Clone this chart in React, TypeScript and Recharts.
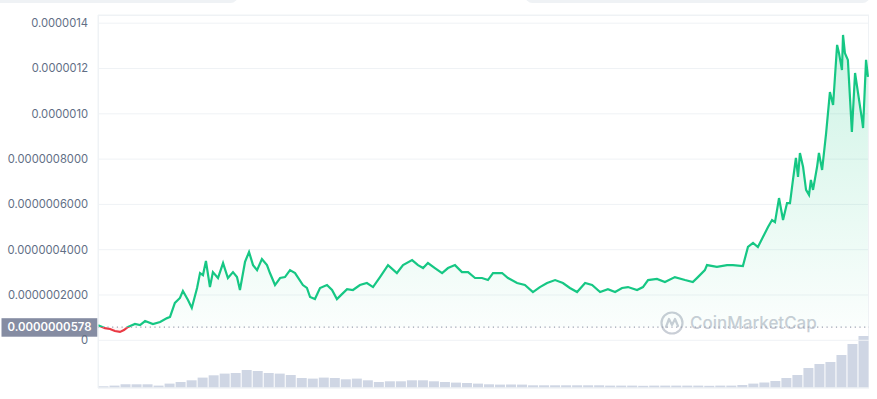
import React from 'react';
import {
  AreaChart,
  Area,
  BarChart,
  Bar,
  XAxis,
  YAxis,
  CartesianGrid,
  ReferenceLine,
} from 'recharts';

// price samples, day offset within the 1Y window
const priceDays = [
  0, 3.3, 5.7, 8.0, 10.4, 12.3, 14.2, 17.5, 19.9, 22.3,
  26.0, 29.4, 32.7, 34.1, 36.4, 38.8, 40.2, 42.6, 44.4, 46.9,
  48.3, 49.7, 51.1, 53.0, 54.4, 56.8, 59.2, 61.5, 63.9, 65.8,
  67.2, 69.6, 71.5, 73.4, 75.3, 77.6, 80.0, 81.4, 83.8, 86.2,
  88.5, 90.9, 93.3, 97.0, 98.9, 100.4, 102.7, 105.1, 108.4, 110.8,
  113.1, 115.5, 117.9, 120.7, 124.0, 127.3, 130.2, 133.5, 137.3, 141.5,
  144.4, 148.7, 151.5, 153.9, 156.2, 159.5, 162.9, 165.7, 169.0, 172.3,
  175.2, 178.5, 181.8, 184.6, 187.0, 191.3, 194.1, 198.4, 202.1, 205.9,
  209.2, 212.6, 216.4, 220.1, 223.4, 226.8, 230.6, 233.9, 237.7, 241.4,
  244.8, 248.1, 250.9, 255.2, 258.0, 260.4, 264.6, 268.4, 273.1, 277.9,
  281.6, 284.0, 287.3, 288.3, 293.0, 297.8, 300.6, 305.3, 307.7, 310.1,
  312.4, 314.8, 317.2, 319.1, 320.5, 322.4, 324.3, 326.2, 327.6, 329.0,
  330.4, 331.4, 332.3, 333.8, 335.2, 336.6, 337.5, 338.5, 340.4, 341.3,
  342.8, 344.7, 346.5, 348.0, 349.9, 350.8, 352.2, 352.7, 353.6, 355.0,
  356.9, 358.4, 359.8, 361.7, 362.2, 363.6, 364.5,
];

// price in units of 1e-9 USD
const priceNano = [
  66, 54, 50, 41, 37, 45, 59, 72, 67, 85,
  72, 81, 98, 103, 165, 187, 218, 178, 143, 231,
  297, 288, 350, 235, 301, 275, 341, 275, 301, 279,
  222, 346, 390, 332, 310, 359, 332, 297, 244, 275,
  279, 310, 297, 244, 231, 191, 182, 231, 244, 222,
  182, 204, 226, 222, 244, 253, 235, 279, 332, 297,
  332, 354, 332, 319, 341, 319, 297, 319, 332, 301,
  301, 275, 275, 266, 297, 297, 275, 253, 244, 213,
  235, 253, 266, 253, 231, 213, 253, 244, 213, 226,
  213, 231, 235, 222, 235, 266, 271, 257, 279, 266,
  257, 279, 310, 332, 324, 332, 332, 328, 412, 430,
  412, 456, 500, 531, 522, 628, 531, 606, 606, 708,
  805, 721, 827, 765, 664, 642, 708, 664, 765, 827,
  752, 915, 1096, 1039, 1304, 1268, 1193, 1348, 1268, 1238,
  920, 1180, 1092, 973, 937, 1238, 1163,
];

// volume per bar, billions USD
const volumeBillions = [
  0.17, 0.24, 0.37, 0.37, 0.37, 0.24, 0.44, 0.6, 0.77, 1.04,
  1.27, 1.44, 1.5, 1.8, 1.7, 1.5, 1.44, 1.3, 1.0, 0.94,
  1.04, 1.0, 0.87, 0.94, 0.77, 0.6, 0.67, 0.67, 0.77, 0.77,
  0.67, 0.6, 0.54, 0.5, 0.44, 0.37, 0.34, 0.34, 0.34, 0.27,
  0.27, 0.27, 0.27, 0.27, 0.27, 0.27, 0.24, 0.24, 0.24, 0.22,
  0.24, 0.24, 0.24, 0.24, 0.24, 0.22, 0.24, 0.24, 0.3, 0.44,
  0.55, 0.7, 1.0, 1.3, 2.0, 2.4, 2.6, 3.3, 4.4, 5.2,
];

const yTicks = [0, 2e-7, 4e-7, 6e-7, 8e-7, 1e-6, 1.2e-6, 1.4e-6];
const yTickLabels = [
  '0',
  '0.0000002000',
  '0.0000004000',
  '0.0000006000',
  '0.0000008000',
  '0.0000010',
  '0.0000012',
  '0.0000014',
];
const xTicks = [22.2, 71.5, 121.2, 170.4, 220.1, 269.3, 307.2, 344.2];

const openPrice = 5.78e-8;
const openLabel = '0.0000000578';

const GREEN = '#16c784';
const RED = '#ea3943';

const priceData = priceDays.map((day, i) => ({ day, price: priceNano[i] * 1e-9 }));
const volumeData = volumeBillions.map((volume, i) => ({ bar: i, volume }));

const maxP = Math.max(...priceNano) * 1e-9;
const minP = Math.min(...priceNano) * 1e-9;
const splitOffset = (maxP - openPrice) / (maxP - minP);

const formatY = (v: number) => {
  const i = yTicks.findIndex((t) => Math.abs(t - v) < 1e-12);
  return i >= 0 ? yTickLabels[i] : '';
};

const OpenLabel = (props: any) => {
  const { viewBox } = props;
  if (!viewBox) return null;
  const x = viewBox.x;
  const y = viewBox.y;
  return (
    <g>
      <rect x={x - 96.5} y={y - 9} width={96} height={18.5} fill="#858ca2" />
      <text
        x={x - 48.5}
        y={y + 0.5}
        textAnchor="middle"
        dominantBaseline="middle"
        fill="#ffffff"
        fontSize={11.4}
        fontWeight={600}
      >
        {openLabel}
      </text>
    </g>
  );
};

const Watermark = () => (
  <div
    style={{
      position: 'absolute',
      left: 660,
      top: 311,
      display: 'flex',
      alignItems: 'center',
      gap: 6,
      color: '#c9ced6',
      fontSize: 17,
      fontWeight: 500,
    }}
  >
    <svg width={24} height={24} viewBox="0 0 24 24">
      <circle cx={12} cy={12} r={10.5} fill="none" stroke="#c9ced6" strokeWidth={2.2} />
      <path
        d="M6 16 L9 8 L12 14 L15 8 L18 15"
        fill="none"
        stroke="#c9ced6"
        strokeWidth={2.2}
        strokeLinejoin="round"
        strokeLinecap="round"
      />
    </svg>
    <span>CoinMarketCap</span>
  </div>
);

const App = () => {
  return (
    <div
      style={{
        position: 'absolute',
        left: 0,
        top: 0,
        width: 877,
        height: 399,
        background: '#ffffff',
        overflow: 'hidden',
        fontFamily: 'Inter, sans-serif',
      }}
    >
      <div
        style={{
          position: 'absolute', left: -10, top: -12, width: 248, height: 15,
          borderRadius: 8, background: '#eff2f5',
        }}
      />
      <div
        style={{
          position: 'absolute', left: 525, top: -12, width: 345, height: 15,
          borderRadius: 8, background: '#eff2f5',
        }}
      />
      <div
        style={{
          position: 'absolute', left: 98, top: 15, width: 771, height: 373,
          border: '1px solid #eff2f5', boxSizing: 'border-box',
        }}
      />
      <Watermark />

      <div style={{ position: 'absolute', left: 0, top: 0 }}>
        <BarChart
          width={877}
          height={399}
          data={volumeData}
          margin={{ top: 288, right: 8, bottom: 11, left: 98 }}
          barCategoryGap={0.5}
        >
          <XAxis dataKey="bar" hide />
          <YAxis hide domain={[0, 10]} />
          <Bar dataKey="volume" fill="#cfd6e4" isAnimationActive={false} />
        </BarChart>
      </div>

      <div style={{ position: 'absolute', left: 0, top: 0 }}>
        <AreaChart
          width={877}
          height={399}
          data={priceData}
          margin={{ top: 15, right: 8, bottom: 0, left: 8 }}
        >
          <defs>
            <linearGradient id="priceStroke" x1="0" y1="0" x2="0" y2="1">
              <stop offset={splitOffset} stopColor={GREEN} />
              <stop offset={splitOffset} stopColor={RED} />
            </linearGradient>
            <linearGradient id="priceFill" x1="0" y1="0" x2="0" y2="1">
              <stop offset={0} stopColor={GREEN} stopOpacity={0.36} />
              <stop offset={splitOffset} stopColor={GREEN} stopOpacity={0.03} />
              <stop offset={splitOffset} stopColor={RED} stopOpacity={0.08} />
              <stop offset={1} stopColor={RED} stopOpacity={0.08} />
            </linearGradient>
          </defs>
          <CartesianGrid horizontal vertical={false} stroke="#eff2f5" />
          <XAxis
            type="number"
            dataKey="day"
            domain={[0, 365]}
            ticks={xTicks}
            tick={false}
            tickSize={5}
            tickLine={{ stroke: '#808a9d' }}
            axisLine={{ stroke: '#eff2f5' }}
            height={11}
          />
          <YAxis
            width={90}
            domain={[-2.106e-7, 1.4362e-6]}
            allowDataOverflow
            ticks={yTicks}
            tickFormatter={formatY}
            tickLine={false}
            tickSize={6}
            tickMargin={4}
            axisLine={{ stroke: '#eff2f5' }}
            tick={{ fontSize: 11.2, fill: '#616e85' }}
          />
          <ReferenceLine
            y={openPrice}
            stroke="#9aa2b1"
            strokeDasharray="1.2 3.5"
            strokeWidth={1.2}
            label={OpenLabel}
          />
          <Area
            type="linear"
            dataKey="price"
            baseValue={openPrice}
            stroke="url(#priceStroke)"
            strokeWidth={2.2}
            fill="url(#priceFill)"
            dot={false}
            activeDot={false}
            isAnimationActive={false}
          />
        </AreaChart>
      </div>
    </div>
  );
};

export default App;
